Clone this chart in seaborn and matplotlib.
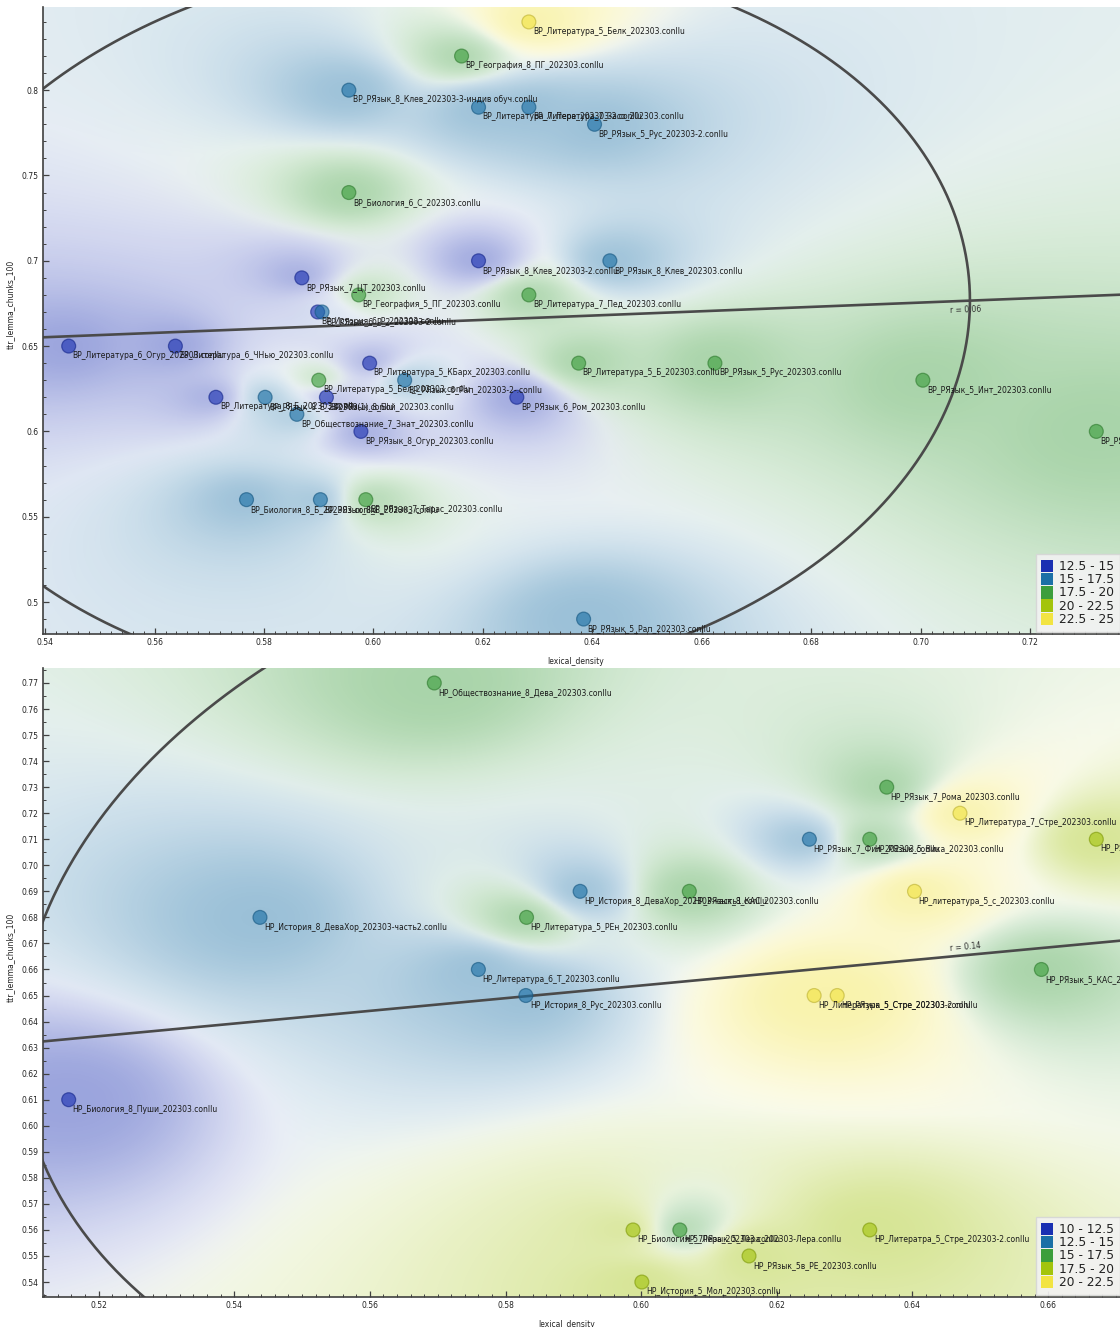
import numpy as np
import pandas as pd
import matplotlib
matplotlib.use("Agg")
import matplotlib.pyplot as plt
import matplotlib.colors as mcolors
import seaborn as sns
from matplotlib.patches import Patch
from matplotlib.ticker import MultipleLocator, FuncFormatter

# ---------------- data: upper panel (ВР) ----------------
top_names = [
    "ВР_Литература_5_Белк_202303.conllu",
    "ВР_География_8_ПГ_202303.conllu",
    "ВР_РЯзык_8_Клев_202303-3-индив обуч.conllu",
    "ВР_Литература_7_Пере_202303-2.conllu",
    "ВР_Литература_7_Засо_202303.conllu",
    "ВР_РЯзык_5_Рус_202303-2.conllu",
    "ВР_Биология_6_С_202303.conllu",
    "ВР_РЯзык_8_Клев_202303-2.conllu",
    "ВР_РЯзык_8_Клев_202303.conllu",
    "ВР_РЯзык_7_ЦТ_202303.conllu",
    "ВР_География_5_ПГ_202303.conllu",
    "ВР_Литература_7_Пед_202303.conllu",
    "ВР_История_6_Р_202303.conllu",
    "ВР_РЯзык_6_Р_2_202303-2.conllu",
    "ВР_Литература_6_Огур_202303.conllu",
    "ВР_Литература_6_ЧНью_202303.conllu",
    "ВР_Литература_5_КБарх_202303.conllu",
    "ВР_Литература_5_Б_202303.conllu",
    "ВР_РЯзык_5_Рус_202303.conllu",
    "ВР_Литература_5_Бел_202303.conllu",
    "ВР_РЯзык_6_Рап_202303-2-.conllu",
    "ВР_РЯзык_5_Инт_202303.conllu",
    "ВР_Литература_8_Б_202303.conllu",
    "ВР_РЯзык_8_Е_202303(1).conllu",
    "ВР_РЯзык_8_Бой_202303.conllu",
    "ВР_РЯзык_6_Ром_202303.conllu",
    "ВР_Обществознание_7_Знат_202303.conllu",
    "ВР_РЯзык_8_Огур_202303.conllu",
    "ВР_РЯзык_5_Бел_202303.conllu",
    "ВР_Биология_8_Б_202303.conllu",
    "ВР_РЯзык_8_Б_202303.conllu",
    "ВР_РЯзык_7_Тарас_202303.conllu",
    "ВР_РЯзык_5_Рап_202303.conllu",
]
top_x = [0.6284, 0.6161, 0.5955, 0.6192, 0.6284, 0.6404, 0.5955, 0.6192, 0.6432,
         0.5869, 0.5973, 0.6284, 0.5898, 0.5906, 0.5443, 0.5638, 0.5993, 0.6375,
         0.6624, 0.5900, 0.6057, 0.7004, 0.5712, 0.5802, 0.5914, 0.6262, 0.5860,
         0.5977, 0.7321, 0.5768, 0.5903, 0.5986, 0.6384]
top_y = [0.84, 0.82, 0.80, 0.79, 0.79, 0.78, 0.74, 0.70, 0.70,
         0.69, 0.68, 0.68, 0.67, 0.67, 0.65, 0.65, 0.64, 0.64,
         0.64, 0.63, 0.63, 0.63, 0.62, 0.62, 0.62, 0.62, 0.61,
         0.60, 0.60, 0.56, 0.56, 0.56, 0.49]
top_val = [23.6, 18.9, 16.1, 16.3, 16.0, 16.4, 18.7, 14.2, 16.2,
           13.9, 18.6, 18.8, 14.0, 16.3, 13.7, 13.8, 14.1, 18.7,
           18.9, 18.5, 16.2, 19.0, 13.9, 16.1, 14.0, 14.3, 16.0,
           13.8, 19.1, 15.8, 16.2, 18.6, 16.4]
top_bins = [12.5, 15, 17.5, 20, 22.5, 25]

# ---------------- data: lower panel (НР) ----------------
bot_names = [
    "НР_Обществознание_8_Дева_202303.conllu",
    "НР_РЯзык_7_Рома_202303.conllu",
    "НР_Литература_7_Стре_202303.conllu",
    "НР_РЯзык_7_Фил_202303.conllu",
    "НР_РЯзык_5_Вика_202303.conllu",
    "НР_РЯзык_5_Стре_202303.conllu",
    "НР_История_8_ДеваХор_202303-часть1.conllu",
    "НР_РЯзык_8_КАС_202303.conllu",
    "НР_литература_5_с_202303.conllu",
    "НР_История_8_ДеваХор_202303-часть2.conllu",
    "НР_Литература_5_РЕн_202303.conllu",
    "НР_Литература_6_Т_202303.conllu",
    "НР_РЯзык_5_КАС_202303.conllu",
    "НР_История_8_Рус_202303.conllu",
    "НР_Литература_5_Стре_202303.conllu",
    "НР_РЯзык_5_Стре_202303-2.conllu",
    "НР_Биология_8_Пуши_202303.conllu",
    "НР_Биология_5_Лера_202303.conllu",
    "НР_7РЯзык_5_Лера_202303-Лера.conllu",
    "НР_Литератра_5_Стре_202303-2.conllu",
    "НР_РЯзык_5в_РЕ_202303.conllu",
    "НР_История_5_Мол_202303.conllu",
]
bot_x = [0.5695, 0.6362, 0.6470, 0.6248, 0.6337, 0.6671, 0.5910, 0.6071, 0.6403,
         0.5438, 0.5831, 0.5760, 0.6590, 0.5830, 0.6255, 0.6289, 0.5156, 0.5988,
         0.6057, 0.6337, 0.6159, 0.6001]
bot_y = [0.77, 0.73, 0.72, 0.71, 0.71, 0.71, 0.69, 0.69, 0.69,
         0.68, 0.68, 0.66, 0.66, 0.65, 0.65, 0.65, 0.61, 0.56,
         0.56, 0.56, 0.55, 0.54]
bot_val = [16.2, 16.4, 21.3, 13.8, 16.1, 18.9, 13.9, 16.3, 21.2,
           13.7, 16.0, 14.1, 16.2, 13.9, 21.1, 21.4, 11.6, 18.8,
           16.3, 18.7, 18.9, 18.6]
bot_bins = [10, 12.5, 15, 17.5, 20, 22.5]

X_LABEL = "lexical_density"
Y_LABEL = "ttr_lemma_chunks_100"

# ---------------- style ----------------
BIN_COLORS = ["#1a30b2", "#1b70a6", "#3c9e3c", "#a3c40c", "#f2e442"]
LINE_COLOR = "#4a4a4a"
SPINE_COLOR = "#404040"
FS_SMALL = 5.5

sns.set_style("ticks")
plt.rcParams["font.family"] = ["DejaVu Sans"]

FIG_W_PX, FIG_H_PX = 1120, 1327
fig = plt.figure(figsize=(FIG_W_PX / 100, FIG_H_PX / 100), dpi=100)


def px_rect(left, top, right, bottom):
    return [left / FIG_W_PX, 1 - bottom / FIG_H_PX,
            (right - left) / FIG_W_PX, (bottom - top) / FIG_H_PX]


def limits(v, margin=0.025):
    lo, hi = float(np.min(v)), float(np.max(v))
    span = hi - lo
    return lo - margin * span, hi + margin * span


def region_image(ax, xs, ys, cls, xlim, ylim, res=256, eps=6e-4, pw=1.4,
                 amin=0.10, amax=0.44, p0=0.3, gam=1.3, sharp=4.0):
    xs = np.asarray(xs); ys = np.asarray(ys); cls = np.asarray(cls)
    gx = (np.linspace(xlim[0], xlim[1], res) - xlim[0]) / (xlim[1] - xlim[0])
    gy = (np.linspace(ylim[0], ylim[1], res) - ylim[0]) / (ylim[1] - ylim[0])
    GX, GY = np.meshgrid(gx, gy)
    xn = (xs - xlim[0]) / (xlim[1] - xlim[0])
    yn = (ys - ylim[0]) / (ylim[1] - ylim[0])
    d2 = (GX[..., None] - xn) ** 2 + (GY[..., None] - yn) ** 2
    w = 1.0 / (d2 + eps) ** pw
    S = np.stack([w[..., cls == c].sum(-1) for c in range(len(BIN_COLORS))], -1)
    P = S / S.sum(-1, keepdims=True)
    p = P.max(-1)
    mix = P ** sharp
    mix = mix / mix.sum(-1, keepdims=True)
    rgb = np.array([mcolors.to_rgb(c) for c in BIN_COLORS])
    img = np.zeros((res, res, 4))
    img[..., :3] = mix @ rgb
    img[..., 3] = amin + (amax - amin) * np.clip((p - p0) / (1 - p0), 0, 1) ** gam
    ax.imshow(img, extent=(xlim[0], xlim[1], ylim[0], ylim[1]), origin="lower",
              aspect="auto", interpolation="bilinear", zorder=0)


def prediction_ellipse(xs, ys, level=0.95, n_pts=600):
    xs = np.asarray(xs); ys = np.asarray(ys)
    n = len(xs)
    k2 = (n - 1) * ((1 - level) ** (-2.0 / (n - 2)) - 1)
    cov = np.cov(xs, ys)
    L = np.linalg.cholesky(cov)
    t = np.linspace(0, 2 * np.pi, n_pts)
    circ = np.vstack([np.cos(t), np.sin(t)])
    pts = np.array([[xs.mean()], [ys.mean()]]) + np.sqrt(k2) * (L @ circ)
    return pts


def draw_panel(ax, names, xs, ys, vals, bins, y_major, y_minor, y_fmt, r_off, ylab_y, xlab_x):
    labels = [f"{a:g} - {b:g}" for a, b in zip(bins[:-1], bins[1:])]
    cls = np.digitize(vals, bins[1:-1])
    df = pd.DataFrame({"name": names, X_LABEL: xs, Y_LABEL: ys, "value": vals})
    df["bin"] = [labels[c] for c in cls]
    pal = dict(zip(labels, BIN_COLORS))

    xlim = limits(xs); ylim = limits(ys)
    ax.set_xlim(xlim); ax.set_ylim(ylim)
    ax.set_facecolor("white")

    region_image(ax, xs, ys, cls, xlim, ylim)

    # regression line
    sns.regplot(data=df, x=X_LABEL, y=Y_LABEL, scatter=False, ci=None, truncate=False,
                line_kws=dict(color=LINE_COLOR, lw=1.9, zorder=2), ax=ax)
    # ellipse
    e = prediction_ellipse(xs, ys)
    ax.plot(e[0], e[1], color=LINE_COLOR, lw=1.9, zorder=2)

    # points
    sns.scatterplot(data=df, x=X_LABEL, y=Y_LABEL, hue="bin", palette=pal,
                    hue_order=labels, s=100, alpha=0.62, linewidth=0.9,
                    legend=False, zorder=3, ax=ax)
    coll = ax.collections[-1]
    edges = [tuple(np.array(mcolors.to_rgb(BIN_COLORS[c])) * 0.78) for c in cls]
    coll.set_edgecolors(edges)

    for _, row in df.iterrows():
        ax.annotate(row["name"], (row[X_LABEL], row[Y_LABEL]), xytext=(2.9, -7.0),
                    textcoords="offset points", fontsize=FS_SMALL, color="#1a1a1a",
                    ha="left", va="center", zorder=4)

    ax.set_xlim(xlim); ax.set_ylim(ylim)

    # r label
    slope, icpt = np.polyfit(xs, ys, 1)
    r = np.corrcoef(xs, ys)[0, 1]
    tx = xlim[0] + 0.855 * (xlim[1] - xlim[0])
    ty = slope * tx + icpt
    p0 = ax.transData.transform((xlim[0], slope * xlim[0] + icpt))
    p1 = ax.transData.transform((xlim[1], slope * xlim[1] + icpt))
    ang = np.degrees(np.arctan2(p1[1] - p0[1], p1[0] - p0[0]))
    ax.annotate(f"r = {r:.2f}", (tx, ty), xytext=(0, r_off), textcoords="offset points",
                fontsize=FS_SMALL, color="#333333", ha="center", va="center",
                rotation=ang, zorder=4)

    # axes styling
    sns.despine(ax=ax)
    for s in ("left", "bottom"):
        ax.spines[s].set_color(SPINE_COLOR)
        ax.spines[s].set_linewidth(1.2)
    ax.xaxis.set_major_locator(MultipleLocator(0.02))
    ax.xaxis.set_minor_locator(MultipleLocator(0.002))
    ax.yaxis.set_major_locator(MultipleLocator(y_major))
    ax.yaxis.set_minor_locator(MultipleLocator(y_minor))
    ax.xaxis.set_major_formatter(FuncFormatter(lambda v, p: f"{v:.2f}"))
    ax.yaxis.set_major_formatter(FuncFormatter(y_fmt))
    ax.tick_params(which="major", direction="in", length=4, width=0.9, color=SPINE_COLOR,
                   labelsize=FS_SMALL, pad=3, labelcolor="#222222")
    ax.tick_params(which="minor", direction="in", length=2.2, width=0.7, color=SPINE_COLOR)
    ax.set_xlabel(X_LABEL, fontsize=FS_SMALL, color="#222222")
    ax.set_ylabel(Y_LABEL, fontsize=FS_SMALL, color="#222222")
    ax.yaxis.set_label_coords(-0.026, ylab_y)
    ax.xaxis.set_label_coords(xlab_x, -0.036)

    handles = [Patch(facecolor=c, edgecolor="none") for c in BIN_COLORS]
    leg = ax.legend(handles, labels, loc="lower right", bbox_to_anchor=(1.0, 0.0),
                    fontsize=8.8, frameon=True, fancybox=False, framealpha=0.92,
                    facecolor="#f2f2f2", edgecolor="#d6d6d6", borderpad=0.45,
                    borderaxespad=0.2, handlelength=1.0, handleheight=1.17,
                    handletextpad=0.45, labelspacing=0.0)
    leg.set_zorder(5)
    for t in leg.get_texts():
        t.set_color("#222222")


ax_top = fig.add_axes(px_rect(43, 7, 1122, 634))
ax_bot = fig.add_axes(px_rect(43, 668, 1122, 1297))

draw_panel(ax_top, top_names, top_x, top_y, top_val, top_bins,
           0.05, 0.01, lambda v, p: f"{round(v, 2):g}", -6.5, 0.525, 0.494)
draw_panel(ax_bot, bot_names, bot_x, bot_y, bot_val, bot_bins,
           0.01, 0.005, lambda v, p: f"{v:.2f}", 6.0, 0.54, 0.485)

fig.savefig("out.png", dpi=100, facecolor="white")
